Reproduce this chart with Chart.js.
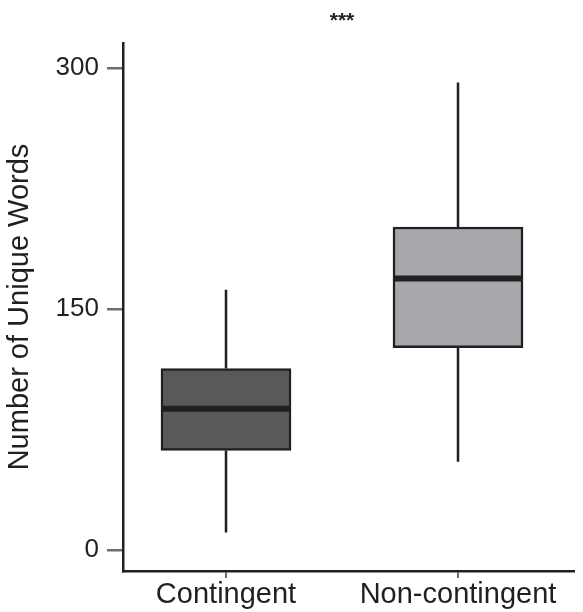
<!DOCTYPE html>
<html>
<head>
<meta charset="utf-8">
<script src="https://cdn.jsdelivr.net/npm/chart.js@4/dist/chart.umd.min.js"></script>
<style>
  body { margin: 0; background: #fff; }
  #wrap { width: 583px; height: 612px; }
</style>
</head>
<body>
<div id="wrap"><canvas id="myChart" width="583" height="612"></canvas></div>
<script>
let categories = ['Contingent', 'Non-contingent'];
let whiskerLow = [11, 55];
let q1 = [62, 126];
let median = [88, 169];
let q3 = [113, 201];
let whiskerHigh = [162, 291];
let yTicks = [0, 150, 300];
let boxColors = ['#58595b', '#a7a8ab'];
let significance = '***';

let ink = '#231f20';
let fontFamily = '"Liberation Sans", Arial, sans-serif';

let boxData = categories.map((c, i) => ({ x: i + 1, y: [q1[i], q3[i]] }));

// whiskers, medians and the significance stars
let boxExtras = {
    id: 'boxExtras',
    beforeDatasetsDraw: (chart) => {
        let ctx = chart.ctx;
        let xs = chart.scales.x;
        let ys = chart.scales.y;
        ctx.save();
        ctx.strokeStyle = ink;
        ctx.lineWidth = 2.5;
        for (let i = 0; i < categories.length; i++) {
            let x = xs.getPixelForValue(i + 1);
            ctx.beginPath();
            ctx.moveTo(x, ys.getPixelForValue(whiskerLow[i]));
            ctx.lineTo(x, ys.getPixelForValue(q1[i]));
            ctx.moveTo(x, ys.getPixelForValue(q3[i]));
            ctx.lineTo(x, ys.getPixelForValue(whiskerHigh[i]));
            ctx.stroke();
        }
        ctx.restore();
    },
    afterDatasetsDraw: (chart) => {
        let ctx = chart.ctx;
        let xs = chart.scales.x;
        let ys = chart.scales.y;
        let meta = chart.getDatasetMeta(0);
        ctx.save();
        ctx.strokeStyle = ink;
        ctx.lineWidth = 6;
        for (let i = 0; i < categories.length; i++) {
            let bar = meta.data[i];
            let y = ys.getPixelForValue(median[i]);
            ctx.beginPath();
            ctx.moveTo(bar.x - bar.width / 2 + 1, y);
            ctx.lineTo(bar.x + bar.width / 2 - 1, y);
            ctx.stroke();
        }
        ctx.fillStyle = ink;
        ctx.font = 'bold 21px ' + fontFamily;
        ctx.textAlign = 'center';
        ctx.textBaseline = 'middle';
        ctx.fillText(significance, xs.getPixelForValue(1.5), 21);
        ctx.restore();
    }
};

let ctx = document.getElementById('myChart').getContext('2d');
let myChart = new Chart(ctx, {
    type: 'bar',
    data: {
        datasets: [{
            data: boxData,
            backgroundColor: boxColors,
            borderColor: ink,
            borderWidth: 2.5,
            borderSkipped: false,
            barThickness: 130
        }]
    },
    options: {
        responsive: false,
        animation: false,
        layout: { padding: { top: 43, right: 9, left: 0, bottom: 0 } },
        plugins: {
            legend: { display: false },
            tooltip: { enabled: false }
        },
        scales: {
            x: {
                type: 'linear',
                offset: false,
                min: 0.556,
                max: 2.5,
                afterBuildTicks: (scale) => {
                    scale.ticks = categories.map((c, i) => ({ value: i + 1 }));
                },
                afterFit: (scale) => { scale.height = 41; },
                ticks: {
                    callback: (v) => categories[v - 1],
                    color: ink,
                    font: { family: fontFamily, size: 29 },
                    padding: 0,
                    maxRotation: 0,
                    autoSkip: false
                },
                grid: { offset: false, drawOnChartArea: false, drawTicks: true, tickLength: 7, color: '#6d6e71', lineWidth: 2 },
                border: { display: true, color: ink, width: 2.5 }
            },
            y: {
                min: -13,
                max: 315.5,
                afterBuildTicks: (scale) => {
                    scale.ticks = yTicks.map(v => ({ value: v }));
                },
                afterFit: (scale) => { scale.width = 123; },
                ticks: {
                    color: ink,
                    font: { family: fontFamily, size: 26 },
                    padding: 8
                },
                title: {
                    display: true,
                    text: 'Number of Unique Words',
                    color: ink,
                    font: { family: fontFamily, size: 29 },
                    padding: { top: 3, bottom: 0 }
                },
                grid: { drawOnChartArea: false, drawTicks: true, tickLength: 16, color: '#6d6e71', lineWidth: 2.5 },
                border: { display: true, color: ink, width: 2.5 }
            }
        }
    },
    plugins: [boxExtras]
});
</script>
</body>
</html>
